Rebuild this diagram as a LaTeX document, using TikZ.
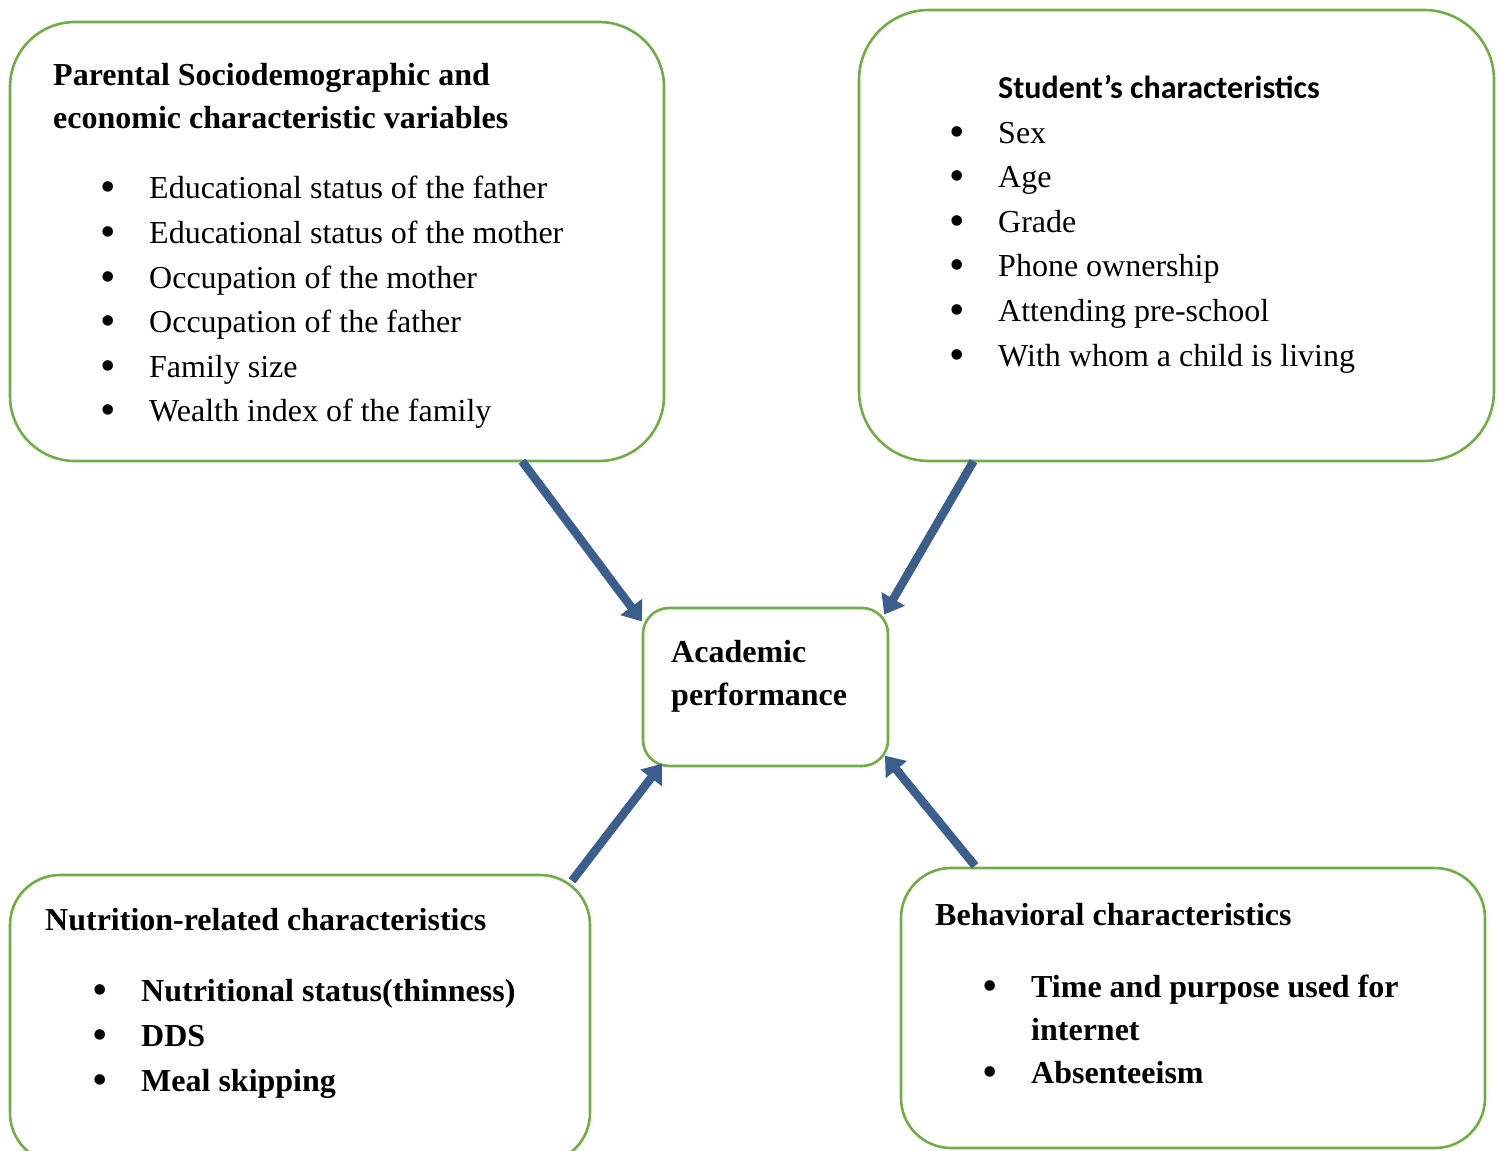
\documentclass[tikz,border=0pt]{standalone}
\usepackage{fontspec}
\setmainfont{Liberation Serif}
\newfontfamily\calibri{Carlito}
\usetikzlibrary{arrows.meta}
\definecolor{boxgreen}{HTML}{70AD47}
\definecolor{arrowblue}{HTML}{3B5E8C}
\tikzset{
  box/.style={draw=boxgreen, line width=2.6pt, fill=white},
  txt/.style={anchor=base west, inner sep=0pt, font=\fontsize{32}{38}\selectfont},
  btxt/.style={txt, font=\fontsize{32}{38}\selectfont\bfseries},
  bul/.style={anchor=base, inner sep=0pt, font=\fontsize{44}{50}\selectfont},
  conn/.style={draw=arrowblue, line width=8.5pt, -{Triangle[length=18pt,width=26pt]}, shorten >=-2pt}
}
\begin{document}
\begin{tikzpicture}[x=1pt,y=-1pt]
\useasboundingbox (0,0) rectangle (1503,1150);
\clip (0,0) rectangle (1503,1150);
% boxes
\draw[box, rounded corners=65pt] (10,22) rectangle (664,461);
\draw[box, rounded corners=70pt] (859,10) rectangle (1494,461);
\draw[box, rounded corners=26pt] (643,608) rectangle (888,766);
\draw[box, rounded corners=50pt] (10,875) rectangle (590,1163);
\draw[box, rounded corners=50pt] (901,868) rectangle (1485,1148);
\node[inner sep=0pt, minimum width=654pt, minimum height=439pt] (tl) at (337,241.5) {};
\node[inner sep=0pt, minimum width=635pt, minimum height=451pt] (tr) at (1176.5,235.5) {};
\node[inner sep=0pt, minimum width=245pt, minimum height=158pt] (ap) at (765.5,687) {};
\node[inner sep=0pt, minimum width=580pt, minimum height=288pt] (bl) at (300,1019) {};
\node[inner sep=0pt, minimum width=584pt, minimum height=280pt] (br) at (1193,1008) {};
\begin{scope}[yshift=-1.5pt]
% top-left text
\node[btxt] (tlt1) at (53,84) {Parental Sociodemographic and};
\node[btxt] (tlt2) at (53,127) {economic characteristic variables};
\foreach \y/\t [count=\i] in {197/Educational status of the father,242/Educational status of the mother,287/Occupation of the mother,331/Occupation of the father,376/Family size,420/Wealth index of the family}{
  \node[bul] (tlb\i) at (108,\y+3) {•};
  \node[txt] (tli\i) at (149,\y) {\t};
}
% top-right text
\node[txt, font=\calibri\fontsize{32}{38}\selectfont\bfseries] (trt) at (998,97) {Student’s characteristics};
\foreach \y/\t [count=\i] in {142/Sex,186/Age,231/Grade,275/Phone ownership,320/Attending pre-school,365/With whom a child is living}{
  \node[bul] (trb\i) at (957,\y+3) {•};
  \node[txt] (tri\i) at (998,\y) {\t};
}
% center
\node[btxt] (apt1) at (671,661) {Academic};
\node[btxt] (apt2) at (671,704) {performance};
% bottom-left
\node[btxt] (blt) at (45,929) {Nutrition-related characteristics};
\foreach \y/\t [count=\i] in {1000/Nutritional status(thinness),1045/DDS,1090/Meal skipping}{
  \node[bul] (blb\i) at (100,\y+3) {•};
  \node[btxt] (bli\i) at (141,\y) {\t};
}
% bottom-right
\node[btxt] (brt) at (935,924) {Behavioral characteristics};
\node[bul] (brb1) at (990,999) {•};
\node[btxt] (bri1) at (1031,996) {Time and purpose used for};
\node[btxt] (bri1b) at (1031,1039) {internet};
\node[bul] (brb2) at (990,1085) {•};
\node[btxt] (bri2) at (1031,1082) {Absenteeism};
\end{scope}
% connectors
\coordinate (s1) at ([xshift=185pt]tl.south);
\coordinate (e1) at ([xshift=-2pt,yshift=-12pt]ap.north west);
\coordinate (s2) at ([xshift=-203pt]tr.south);
\coordinate (e2) at ([xshift=-3pt,yshift=-5pt]ap.north east);
\coordinate (s3) at ([xshift=272pt,yshift=-6pt]bl.north);
\coordinate (e3) at ([xshift=18pt,yshift=1pt]ap.south west);
\coordinate (s4) at ([xshift=-218pt,yshift=2pt]br.north);
\coordinate (e4) at ([xshift=-2pt,yshift=9pt]ap.south east);
\draw[conn] (s1) -- (e1);
\draw[conn] (s2) -- (e2);
\draw[conn] (s3) -- (e3);
\draw[conn] (s4) -- (e4);
\end{tikzpicture}
\end{document}
